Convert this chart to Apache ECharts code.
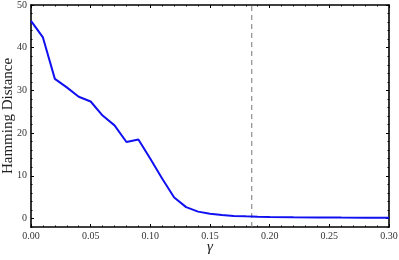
<!DOCTYPE html>
<html>
<head>
<meta charset="utf-8">
<script src="https://cdn.jsdelivr.net/npm/echarts@6/dist/echarts.min.js"></script>
<style>html,body{margin:0;padding:0;background:#fff;}#c{width:399px;height:260px;}</style>
</head>
<body>
<div id="c"></div>
<script>
var gammaValues = [0.00,0.01,0.02,0.03,0.04,0.05,0.06,0.07,0.08,0.09,0.10,0.11,0.12,0.13,0.14,0.15,0.16,0.17,0.18,0.19,0.20,0.22,0.24,0.26,0.28,0.30];
var hammingValues = [46.3,42.4,32.7,30.7,28.5,27.4,24.1,21.8,17.9,18.5,14.0,9.3,4.9,2.65,1.6,1.1,0.8,0.6,0.5,0.42,0.35,0.28,0.24,0.2,0.18,0.16];
var thresholdGamma = 0.185;
var yRange = [-2, 50];
var yMajorTicks = [0,10,20,30,40,50];
var yMinorTicks = [-2,2,4,6,8,12,14,16,18,22,24,26,28,32,34,36,38,42,44,46,48];
var xLabelDigits = 2;

var serif = '"Liberation Serif", "DejaVu Serif", serif';
var data = gammaValues.map(function(g,i){return [g, hammingValues[i]];});
var thresholdLine = yRange.map(function(y){return [thresholdGamma, y];});

function xAxisCfg(pos, showLabel){
  return {
    type:'value', position:pos, min:0, max:0.3, interval:0.05,
    axisLine:{show:true, onZero:false, lineStyle:{color:'#000', width:1.6}},
    axisTick:{show:true, inside:true, length:3, lineStyle:{color:'#000', width:1}},
    minorTick:{show:true, splitNumber:5, length:1.5, lineStyle:{color:'#000', width:1}},
    splitLine:{show:false}, minorSplitLine:{show:false},
    axisLabel:{show:showLabel, margin:4, fontFamily:serif, fontSize:10, color:'#333',
      formatter:function(v){return v.toFixed(xLabelDigits);}},
    name: showLabel ? 'γ' : '',
    nameLocation:'middle', nameGap:13, nameMoveOverlap:false,
    nameTextStyle:{fontFamily:serif, fontStyle:'italic', fontSize:15, color:'#222', verticalAlign:'top'}
  };
}
function yAxisCfg(pos, showLabel, ticks, len, showLine, name){
  return {
    type:'value', position:pos, min:yRange[0], max:yRange[1],
    axisLine:{show:showLine, onZero:false, lineStyle:{color:'#000', width:1.6}},
    axisTick:{show:true, inside:true, length:len, customValues:ticks, lineStyle:{color:'#000', width:1}},
    splitLine:{show:false},
    axisLabel:{show:showLabel, customValues:ticks, margin:4, fontFamily:serif, fontSize:10, color:'#333'},
    name: name || '',
    nameLocation:'middle', nameGap:15, nameRotate:90, nameMoveOverlap:false,
    nameTextStyle:{fontFamily:serif, fontSize:15, color:'#222'}
  };
}

var chart = echarts.init(document.getElementById('c'), null, {renderer:'canvas'});
chart.setOption({
  animation:false,
  backgroundColor:'#fff',
  grid:{left:31, right:10, top:5, bottom:33, containLabel:false, outerBoundsMode:'none'},
  xAxis:[xAxisCfg('bottom', true), xAxisCfg('top', false)],
  yAxis:[
    yAxisCfg('left', true, yMajorTicks, 3, true, 'Hamming Distance'),
    yAxisCfg('right', false, yMajorTicks, 3, true),
    yAxisCfg('left', false, yMinorTicks, 1.5, false),
    yAxisCfg('right', false, yMinorTicks, 1.5, false)
  ],
  series:[{
    type:'line', xAxisIndex:0, yAxisIndex:0, data:thresholdLine,
    showSymbol:false, symbol:'none', silent:true,
    lineStyle:{color:'#777', type:[5,4], width:1}
  },{
    type:'line', xAxisIndex:0, yAxisIndex:0, data:data,
    showSymbol:false, symbol:'none', smooth:false,
    lineStyle:{color:'#1010f0', width:2}
  }]
});
</script>
</body>
</html>
